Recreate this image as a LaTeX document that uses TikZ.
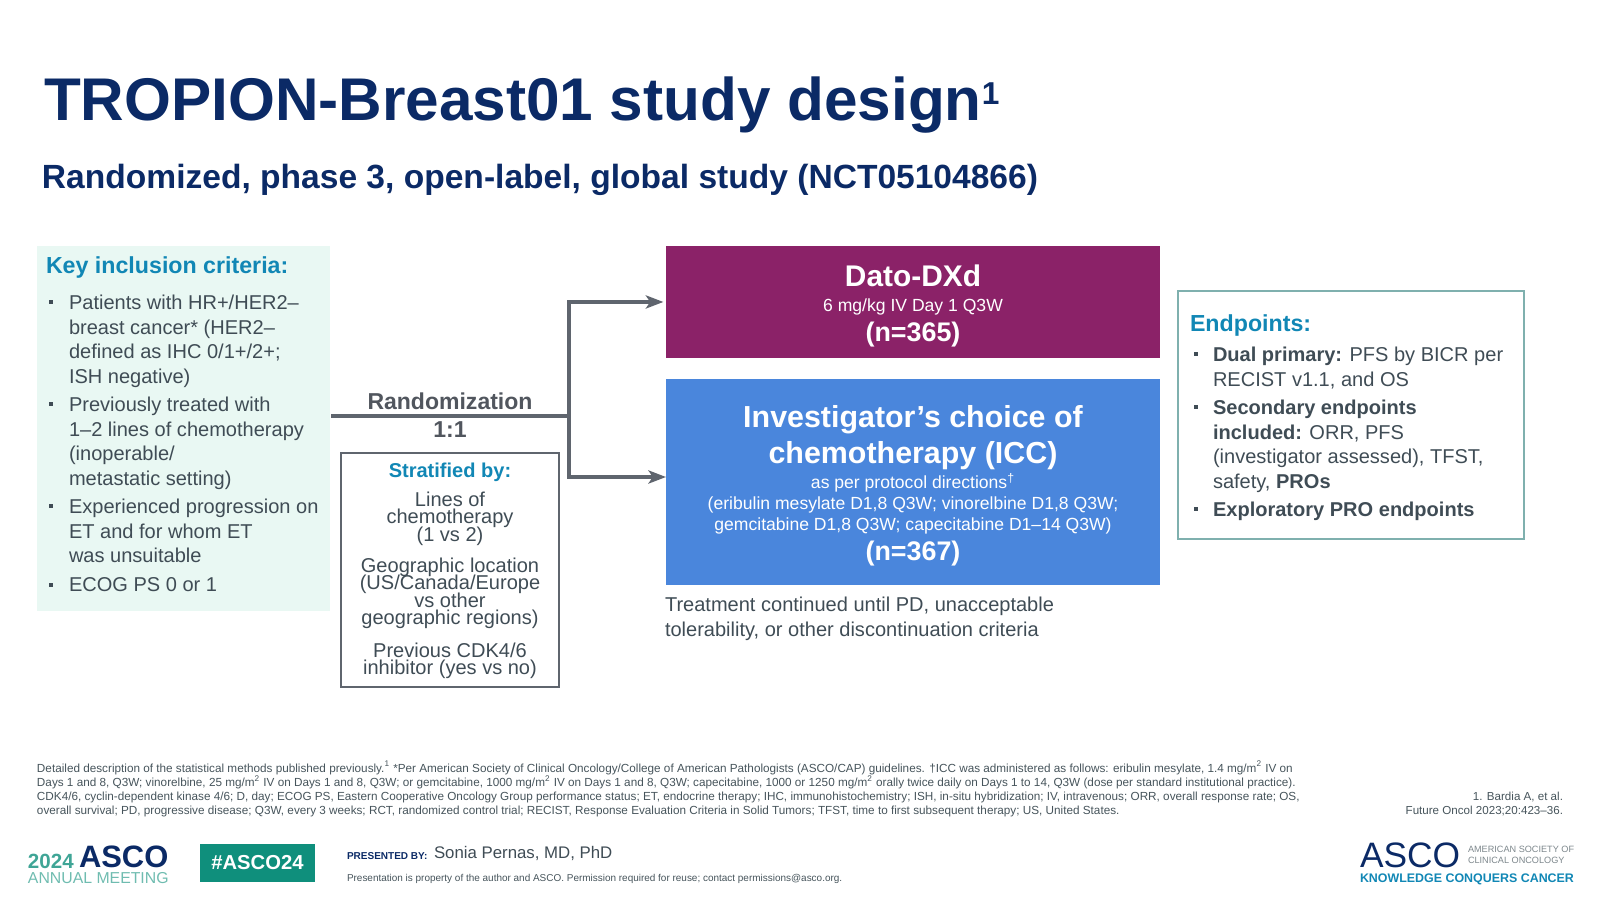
\documentclass[tikz,border=0pt]{standalone}
\usepackage{fontspec}
\setmainfont{Liberation Sans}
\usepackage{xcolor}
\usetikzlibrary{positioning}
\usetikzlibrary{arrows.meta}
\definecolor{navy}{HTML}{0B2A66}
\definecolor{cue}{HTML}{1187B5}
\definecolor{body}{HTML}{3F4C55}
\definecolor{fine}{HTML}{46545B}
\definecolor{mint}{HTML}{E9F8F3}
\definecolor{plum}{HTML}{8B2268}
\definecolor{iccblue}{HTML}{4A86DC}
\definecolor{armgrey}{HTML}{5F656E}
\definecolor{tagteal}{HTML}{0F8F7C}
\definecolor{edge}{HTML}{7FB0AE}
\newcommand{\sz}[2]{\fontsize{#1}{#2}\selectfont}
\AtBeginDocument{\lineskiplimit=-10pt\relax\normallineskiplimit=-10pt\relax}
\tikzset{
    flat/.style={inner sep=0pt, outer sep=0pt},
    listtext/.style={flat, anchor=north west, align=left, text=body, font=\sz{11.4}{13.94}},
    tick/.style={flat, fill=body, minimum size=2.6pt},
    crit/.style={flat, anchor=north, align=center, text=body, font=\sz{11.4}{9.85}},
    white text/.style={flat, text=white, align=center},
    arm/.style={draw=armgrey, line width=1.8pt, -{Stealth[length=10pt,width=7.5pt,inset=2.5pt]}},
}

\begin{document}
\begin{tikzpicture}[x=2cm, y=2cm]
    \useasboundingbox (0,0) rectangle (16,-9.02);

    % Title
    \node at (0.44,-1.20) (title) [flat, anchor=base west, text=navy, font=\sz{34.3}{40}\bfseries] {TROPION-Breast01 study design\textsuperscript{\sz{18}{20}1}};
    \node at (0.42,-1.88) (subtitle) [flat, anchor=base west, text=navy, font=\sz{19.1}{22}\bfseries] {Randomized, phase 3, open-label, global study (NCT05104866)};

    % Boxes
    \node at (0.37,-2.46) (keybox) [flat, anchor=north west, fill=mint, minimum width=167pt, minimum height=207.7pt] {};
    \node at (6.66,-2.46) (dato) [flat, anchor=north west, fill=plum, minimum width=281pt, minimum height=63.7pt] {};
    \node at (6.66,-3.79) (icc) [flat, anchor=north west, fill=iccblue, minimum width=281pt, minimum height=117pt] {};
    \node at (3.41,-4.53) (stratbox) [flat, anchor=north west, draw=armgrey, line width=0.9pt, minimum width=124pt, minimum height=133pt] {};
    \node at (11.78,-2.91) (endbox) [flat, anchor=north west, draw=edge, line width=0.9pt, minimum width=197pt, minimum height=141pt] {};

    % Key inclusion criteria
    \node at (0.46,-2.73) (keyhead) [flat, anchor=base west, text=cue, font=\sz{13.2}{15}\bfseries] {Key inclusion criteria:};
    \node at (0.69,-2.95) (key1) [listtext] {Patients with HR+/HER2--\\breast cancer* (HER2--\\defined as IHC 0/1+/2+;\\ISH negative)};
    \node at (0.69,-3.97) (key2) [listtext] {Previously treated with\\1--2 lines of chemotherapy\\(inoperable/\\metastatic setting)};
    \node at (0.69,-4.99) (key3) [listtext] {Experienced progression on\\ET and for whom ET\\was unsuitable};
    \node at (0.69,-5.78) (key4) [listtext] {ECOG PS 0 or 1};
    \foreach \i/\ypos in {1/3.02, 2/4.04, 3/5.06, 4/5.85}
        \node at (0.51,-\ypos) (keytick\i) [tick] {};

    % Randomization
    \node at (4.50,-4.09) (rand) [flat, anchor=base, text=armgrey!85!black, font=\sz{13.1}{15}\bfseries] {Randomization};
    \node at (4.50,-4.37) (ratio) [flat, anchor=base, text=armgrey!85!black, font=\sz{13.1}{15}\bfseries] {1:1};
    \coordinate (start) at (3.31,-4.16);
    \coordinate (split) at (5.69,-4.16);
    \coordinate (iccin) at (6.66,-4.77);

    % Stratified by
    \node at (4.50,-4.63) (strathead) [flat, anchor=north, text=cue, font=\sz{11.4}{13}\bfseries] {Stratified by:};
    \node at (4.50,-4.92) (strat1) [crit] {Lines of\\chemotherapy\\(1 vs 2)};
    \node at (4.50,-5.58) (strat2) [crit] {Geographic location\\(US/Canada/Europe\\vs other\\geographic regions)};
    \node at (4.50,-6.43) (strat3) [crit] {Previous CDK4/6\\inhibitor (yes vs no)};

    % Arm texts
    \node at (9.13,-2.76) (datoname) [white text, font=\sz{17}{20}\bfseries] {Dato-DXd};
    \node at (9.13,-3.07) (datodose) [white text, font=\sz{10}{12}] {6 mg/kg IV Day 1 Q3W};
    \node at (9.13,-3.35) (daton) [white text, font=\sz{15.3}{18}\bfseries] {(n=365)};
    \node at (9.13,-4.38) (iccname) [white text, font=\sz{17.3}{20.4}\bfseries] {Investigator’s choice of\\chemotherapy (ICC)};
    \node at (9.13,-5.04) (iccdose) [white text, font=\sz{10}{11.9}] {as per protocol directions\textsuperscript{†}\\(eribulin mesylate D1,8 Q3W; vinorelbine D1,8 Q3W;\\gemcitabine D1,8 Q3W; capecitabine D1--14 Q3W)};
    \node at (9.13,-5.54) (iccn) [white text, font=\sz{15.3}{18}\bfseries] {(n=367)};
    \node at (6.65,-5.97) (until) [listtext] {Treatment continued until PD, unacceptable\\tolerability, or other discontinuation criteria};

    % Endpoints
    \node at (11.90,-3.31) (endhead) [flat, anchor=base west, text=cue, font=\sz{13.2}{15}\bfseries] {Endpoints:};
    \node at (12.13,-3.47) (end1) [listtext] {\textbf{Dual primary:} PFS by BICR per\\RECIST v1.1, and OS};
    \node at (12.13,-4.00) (end2) [listtext] {\textbf{Secondary endpoints}\\\textbf{included:} ORR, PFS\\(investigator assessed), TFST,\\safety, \textbf{PROs}};
    \node at (12.13,-5.02) (end3) [listtext] {\textbf{Exploratory PRO endpoints}};
    \foreach \i/\ypos in {1/3.54, 2/4.07, 3/5.09}
        \node at (11.96,-\ypos) (endtick\i) [tick] {};

    % Footnotes
    \node at (0.37,-7.61) (notes) [flat, anchor=north west, align=left, text=fine, font=\sz{6.68}{8.13}] {Detailed description of the statistical methods published previously.\textsuperscript{1} *Per American Society of Clinical Oncology/College of American Pathologists (ASCO/CAP) guidelines. †ICC was administered as follows: eribulin mesylate, 1.4 mg/m\textsuperscript{2} IV on\\Days 1 and 8, Q3W; vinorelbine, 25 mg/m\textsuperscript{2} IV on Days 1 and 8, Q3W; or gemcitabine, 1000 mg/m\textsuperscript{2} IV on Days 1 and 8, Q3W; capecitabine, 1000 or 1250 mg/m\textsuperscript{2} orally twice daily on Days 1 to 14, Q3W (dose per standard institutional practice).\\CDK4/6, cyclin-dependent kinase 4/6; D, day; ECOG PS, Eastern Cooperative Oncology Group performance status; ET, endocrine therapy; IHC, immunohistochemistry; ISH, in-situ hybridization; IV, intravenous; ORR, overall response rate; OS,\\overall survival; PD, progressive disease; Q3W, every 3 weeks; RCT, randomized control trial; RECIST, Response Evaluation Criteria in Solid Tumors; TFST, time to first subsequent therapy; US, United States.};
    \node at (15.63,-7.92) (refs) [flat, anchor=north east, align=right, text=fine, font=\sz{6.6}{8.13}] {1. Bardia A, et al.\\Future Oncol 2023;20:423--36.};

    % Footer
    \node at (0.28,-8.68) (year) [flat, anchor=base west, text=tagteal!80!white, font=\sz{11.7}{15}\bfseries] {2024};
    \node at (0.79,-8.67) (meetlogo) [flat, anchor=base west, text=navy, font=\sz{17.6}{22}\bfseries] {ASCO};
    \node at (0.28,-8.83) (meeting) [flat, anchor=base west, text=tagteal!60!white, font=\sz{9}{10}] {ANNUAL MEETING};
    \node at (2.00,-8.44) (tag) [flat, anchor=north west, fill=tagteal, text=white, font=\sz{11.5}{14}\bfseries, minimum width=65.4pt, minimum height=21.6pt] {\#ASCO24};
    \node at (3.47,-8.59) (presented) [flat, anchor=base west, text=navy, font=\sz{5.7}{7}\bfseries] {PRESENTED BY:};
    \node at (4.34,-8.58) (speaker) [flat, anchor=base west, text=body, font=\sz{9.56}{12}] {Sonia Pernas, MD, PhD};
    \node at (3.47,-8.81) (rights) [flat, anchor=base west, text=fine, font=\sz{5.67}{7}] {Presentation is property of the author and ASCO. Permission required for reuse; contact permissions@asco.org.};
    \node at (13.60,-8.67) (asco) [flat, anchor=base west, text=navy, font=\sz{20.1}{24}] {ASCO};
    \node at (14.68,-8.63) (society) [flat, anchor=base west, align=left, text=fine!70!white, font=\sz{5.2}{5.8}] {AMERICAN SOCIETY OF\\CLINICAL ONCOLOGY};
    \node at (13.60,-8.82) (motto) [flat, anchor=base west, text=cue, font=\sz{7.07}{8}\bfseries] {KNOWLEDGE CONQUERS CANCER};

    % Arrows
    \draw[armgrey, line width=1.8pt] (start) -- (split);
    \draw[arm, shorten >=1.5pt] (split) |- (dato.west);
    \draw[arm] (split) |- (iccin);
\end{tikzpicture}
\end{document}
